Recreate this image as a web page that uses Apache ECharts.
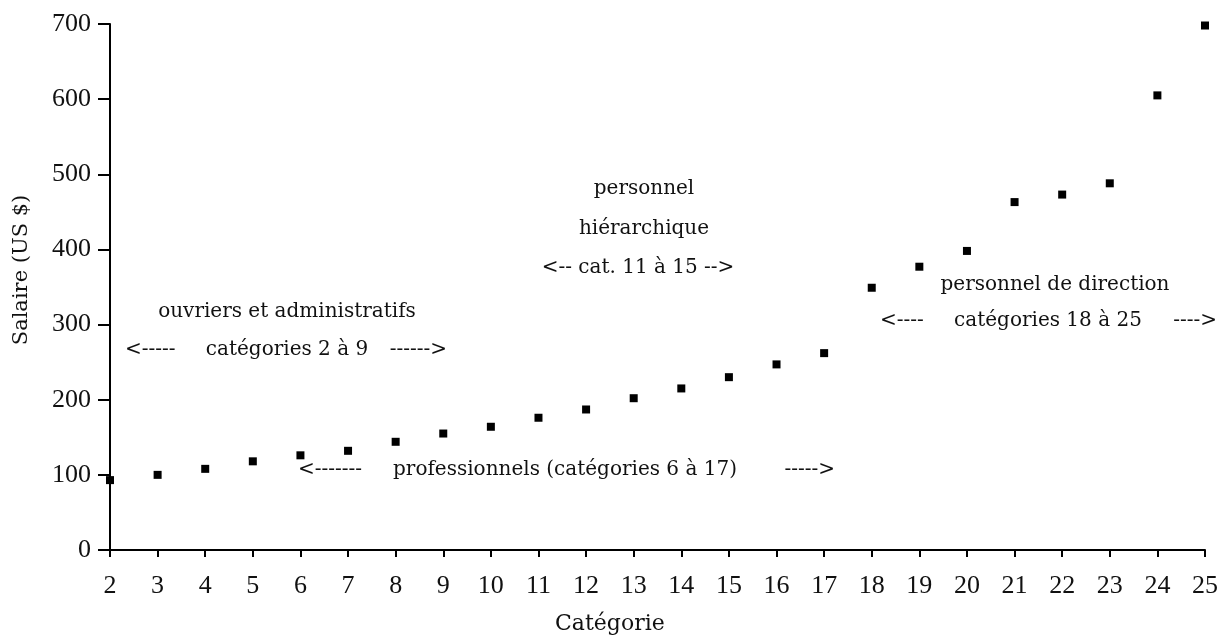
<!DOCTYPE html>
<html>
<head>
<meta charset="utf-8">
<script src="https://cdn.jsdelivr.net/npm/echarts@6/dist/echarts.min.js"></script>
<style>html,body{margin:0;padding:0;background:#fff}#c{width:1221px;height:637px}</style>
</head>
<body>
<div id="c"></div>
<script>
const categories = [2,3,4,5,6,7,8,9,10,11,12,13,14,15,16,17,18,19,20,21,22,23,24,25];
const salaries = [93,100,108,118,126,132,144,155,164,176,187,202,215,230,247,262,349,377,398,463,473,488,605,698];
const yTicks = [0,100,200,300,400,500,600,700];
const xTitle = 'Catégorie';
const yTitle = 'Salaire (US $)';
const notes = [
  {text:'ouvriers et administratifs', x:287, y:312, align:'center'},
  {text:'<-----', x:125, y:350, align:'left'},
  {text:'catégories 2 à 9', x:287, y:350, align:'center'},
  {text:'------>', x:447, y:350, align:'right'},
  {text:'<-------', x:298, y:470, align:'left'},
  {text:'professionnels (catégories 6 à 17)', x:565, y:470, align:'center'},
  {text:'----->', x:835, y:470, align:'right'},
  {text:'personnel', x:644, y:189, align:'center'},
  {text:'hiérarchique', x:644, y:229, align:'center'},
  {text:'<-- cat. 11 à 15 -->', x:638, y:268, align:'center'},
  {text:'personnel de direction', x:1055, y:285, align:'center'},
  {text:'<----', x:880, y:321, align:'left'},
  {text:'catégories 18 à 25', x:1048, y:321, align:'center'},
  {text:'---->', x:1217, y:321, align:'right'}
];

const NUMFONT = 'Liberation Serif';
const chart = echarts.init(document.getElementById('c'));
chart.setOption({
  animation:false,
  backgroundColor:'#fff',
  grid:{left:110,right:11,top:24,bottom:87},
  xAxis:{
    type:'value', min:categories[0], max:categories[categories.length-1], interval:1,
    axisLine:{lineStyle:{color:'#000',width:2}},
    axisTick:{show:true,length:7,lineStyle:{color:'#000',width:2}},
    axisLabel:{color:'#111',fontFamily:NUMFONT,fontSize:26,margin:23},
    splitLine:{show:false}
  },
  yAxis:{
    type:'value', min:yTicks[0], max:yTicks[yTicks.length-1], interval:100,
    axisLine:{show:true,lineStyle:{color:'#000',width:2}},
    axisTick:{show:true,length:12,lineStyle:{color:'#000',width:2}},
    axisLabel:{color:'#111',fontFamily:NUMFONT,fontSize:26,margin:19},
    splitLine:{show:false}
  },
  series:[{
    type:'scatter',
    data:categories.map((c,i)=>[c,salaries[i]]),
    symbol:'rect', symbolSize:8,
    itemStyle:{color:'#000',opacity:1}
  }],
  graphic:[
    {type:'text', x:555, y:624, style:{text:xTitle, fill:'#111', font:'22px "DejaVu Serif"', textVerticalAlign:'middle'}},
    {type:'text', x:22, y:270, rotation:Math.PI/2, style:{text:yTitle, fill:'#111', font:'21px "DejaVu Serif"', textAlign:'center', textVerticalAlign:'middle'}}
  ].concat(notes.map(n=>({type:'text', x:n.x, y:n.y, style:{text:n.text, fill:'#111', font:'20px "DejaVu Serif"', textAlign:n.align, textVerticalAlign:'middle'}})))
});
</script>
</body>
</html>
